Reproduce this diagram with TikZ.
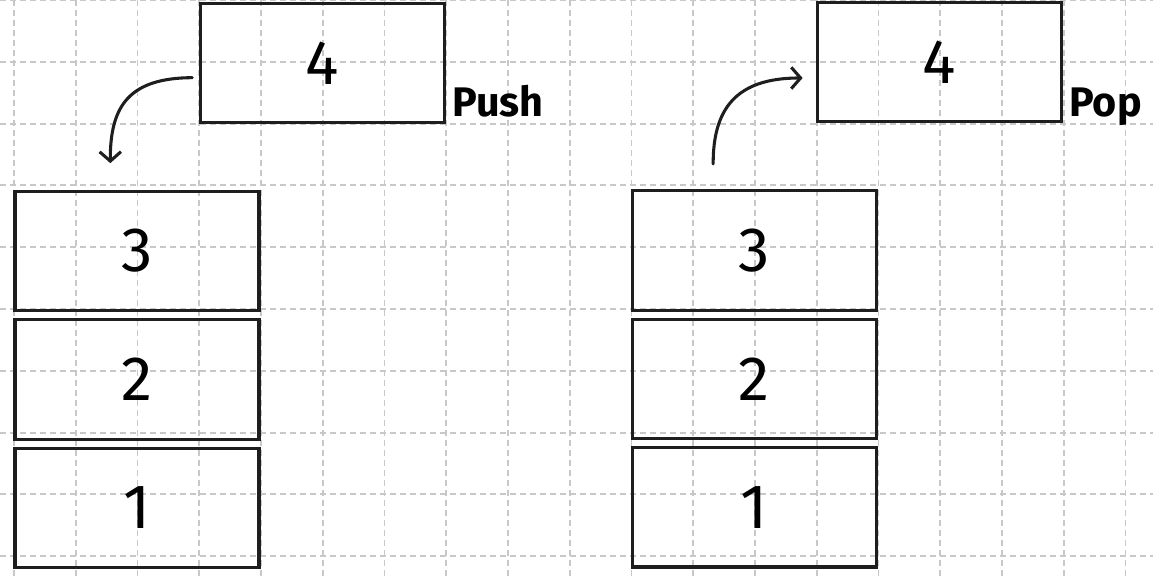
\documentclass[tikz,border=0pt]{standalone}
\usepackage{fontspec}
\setmainfont{Fira Sans}
\usetikzlibrary{positioning,arrows.meta}
\definecolor{ink}{HTML}{1E1E1E}
\definecolor{gridgray}{HTML}{C8C8C8}
\begin{document}
\begin{tikzpicture}[x=0.75pt,y=-0.75pt,
		box/.style={draw=ink, line width=2.3pt, minimum width=183pt, minimum height=89.5pt, font=\fontsize{47}{50}\selectfont},
		lbl/.style={inner sep=0pt, anchor=base west, font=\fontsize{31}{34}\selectfont\bfseries},
		arr/.style={draw=ink, line width=2.3pt, line cap=round, -{Straight Barb[length=7pt,width=16pt,line width=2.3pt]}},
		gridline/.style={gridgray, line width=1.4pt, dash pattern=on 4.5pt off 3pt}]
		\useasboundingbox (0,0) rectangle (1153,580);
		% grid
		\foreach \i in {0,...,18} \draw[gridline] (14+61.75*\i,0) -- (14+61.75*\i,580);
		\foreach \j in {0,...,9} \draw[gridline] (0,61.8*\j) -- (1153,61.8*\j);
		
		% push side
		\node (push4) [box] at (322.5,63) {4};
		\node (l3) [box] at (137,251) {3};
		\node (l2) [box, below=4.5pt of l3] {2};
		\node (l1) [box, below=4.5pt of l2] {1};
		\node (pushlbl) [lbl] at (452,117) {Push};
		
		% pop side
		\node (pop4) [box] at (939.5,62) {4};
		\node (r3) [box] at (754.5,250.5) {3};
		\node (r2) [box, below=4.5pt of r3] {2};
		\node (r1) [box, below=4.5pt of r2] {1};
		\node (poplbl) [lbl] at (1069,117) {Pop};
		
		\coordinate (pushfrom) at ([xshift=-5pt,yshift=-11pt]push4.west);
		\coordinate (pushto) at ([xshift=-20pt,yshift=20pt]l3.north);
		\coordinate (popfrom) at ([xshift=-31pt,yshift=19pt]r3.north);
		\coordinate (popto) at ([xshift=-10pt,yshift=-12pt]pop4.west);
		
		\draw[arr] (pushfrom) .. controls (130,78) and (110,105) .. (pushto);
		\draw[arr] (popfrom) .. controls (713,110) and (735,78) .. (popto);
	\end{tikzpicture}
\end{document}
